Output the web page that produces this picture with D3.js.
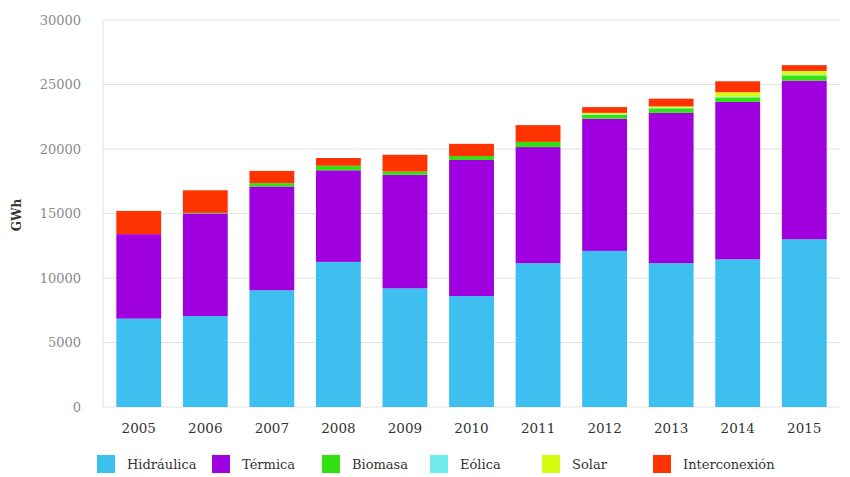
<!DOCTYPE html>
<html>
<head>
<meta charset="utf-8">
<script src="https://cdn.jsdelivr.net/npm/d3@7"></script>
<style>
  html, body { margin: 0; padding: 0; background: #fff; }
  svg { display: block; }
</style>
</head>
<body>
<svg id="chart" width="850" height="477"></svg>
<script>
// Electricity supply by source, GWh per year
const years = ["2005", "2006", "2007", "2008", "2009", "2010", "2011", "2012", "2013", "2014", "2015"];
const hidraulica    = [6850, 7050, 9050, 11250, 9200, 8600, 11150, 12100, 11150, 11450, 13000];
const termica       = [6550, 7950, 8050, 7100, 8800, 10550, 9000, 10250, 11650, 12200, 12300];
const biomasa       = [0, 50, 250, 350, 250, 300, 400, 300, 350, 350, 400];
const eolica        = [0, 0, 0, 0, 0, 0, 0, 50, 50, 50, 50];
const solar         = [0, 0, 0, 0, 0, 0, 0, 100, 100, 350, 300];
const interconexion = [1800, 1750, 950, 600, 1300, 950, 1300, 450, 600, 850, 450];
const yTicks = [0, 5000, 10000, 15000, 20000, 25000, 30000];

const series = [
  { key: "Hidráulica", values: hidraulica, color: "#3dbff0" },
  { key: "Térmica", values: termica, color: "#a000e0" },
  { key: "Biomasa", values: biomasa, color: "#33e010" },
  { key: "Eólica", values: eolica, color: "#70ecec" },
  { key: "Solar", values: solar, color: "#d4fb10" },
  { key: "Interconexión", values: interconexion, color: "#ff3300" }
];

const rows = years.map((y, i) => {
  const r = { year: y };
  series.forEach(s => { r[s.key] = s.values[i]; });
  return r;
});

const svg = d3.select("#chart");
const plotLeft = 103, plotRight = 840, plotTop = 20, plotBottom = 407;
const serif = "DejaVu Serif, Liberation Serif, serif";

const x = d3.scaleBand().domain(years).range([plotLeft, plotRight]).paddingInner(0.326).paddingOuter(0.2);
const y = d3.scaleLinear().domain([0, 30000]).range([plotBottom, plotTop]);

// grid lines
svg.append("g")
  .selectAll("line")
  .data(yTicks)
  .join("line")
  .attr("x1", plotLeft).attr("x2", plotRight)
  .attr("y1", d => y(d)).attr("y2", d => y(d))
  .attr("stroke", "#e2e2e2").attr("stroke-width", 1);

// vertical axis line
svg.append("line")
  .attr("x1", plotLeft).attr("x2", plotLeft)
  .attr("y1", plotTop).attr("y2", plotBottom)
  .attr("stroke", "#e2e2e2");

// y axis labels
const yAxis = d3.axisLeft(y).tickValues(yTicks).tickSize(0).tickPadding(22).tickFormat(d3.format("d"));
const gy = svg.append("g").attr("transform", `translate(${plotLeft},0)`).call(yAxis);
gy.select(".domain").remove();
gy.selectAll("text")
  .attr("font-family", serif)
  .attr("font-size", 13)
  .attr("fill", "#8a8a8a");

// y axis title
svg.append("text")
  .attr("transform", "translate(21,215) rotate(-90)")
  .attr("text-anchor", "middle")
  .attr("font-family", serif)
  .attr("font-weight", "bold")
  .attr("font-size", 12)
  .attr("fill", "#333")
  .text("GWh");

// stacked bars
const stack = d3.stack().keys(series.map(s => s.key));
const stacked = stack(rows);

svg.append("g")
  .selectAll("g")
  .data(stacked)
  .join("g")
  .attr("fill", (d, i) => series[i].color)
  .selectAll("rect")
  .data(d => d)
  .join("rect")
  .attr("x", d => x(d.data.year))
  .attr("width", x.bandwidth())
  .attr("y", d => y(d[1]))
  .attr("height", d => y(d[0]) - y(d[1]));

// x axis labels
const xAxis = d3.axisBottom(x).tickSize(0).tickPadding(16);
const gx = svg.append("g").attr("transform", `translate(0,${plotBottom})`).call(xAxis);
gx.select(".domain").remove();
gx.selectAll("text")
  .attr("font-family", serif)
  .attr("font-size", 13.5)
  .attr("fill", "#333");

// legend
const legendX = [97, 212, 322, 430, 542, 653];
const legend = svg.append("g").selectAll("g")
  .data(series)
  .join("g")
  .attr("transform", (d, i) => `translate(${legendX[i]},455)`);
legend.append("rect")
  .attr("width", 18).attr("height", 18)
  .attr("fill", d => d.color);
legend.append("text")
  .attr("x", 30).attr("y", 14)
  .attr("font-family", serif)
  .attr("font-size", 13)
  .attr("fill", "#333")
  .text(d => d.key);
</script>
</body>
</html>
